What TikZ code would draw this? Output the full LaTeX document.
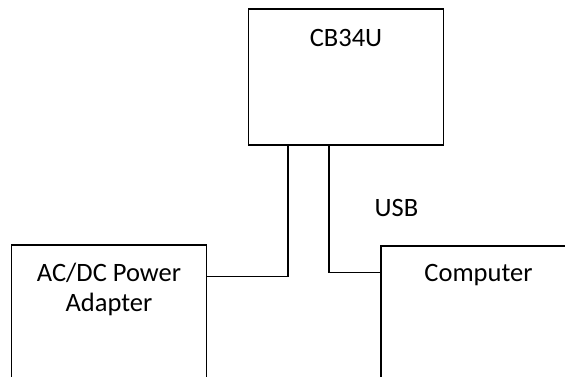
\documentclass[tikz,border=0pt]{standalone}
\usepackage{fontspec}
\setmainfont{Carlito}
\usetikzlibrary{positioning}
\tikzset{
  blk/.style  ={draw, line width=1.2pt, minimum width=195pt,
                minimum height=136pt, inner sep=0pt},
  blktxt/.style ={font=\fontsize{26.5}{30}\selectfont, align=center,
                anchor=base, inner sep=0pt},
  wire/.style ={line width=1.2pt},
}
\begin{document}
\begin{tikzpicture}[x=1pt,y=1pt]
\useasboundingbox (0,0) rectangle (565,377);
\clip (0,0) rectangle (565,377);
% blocks
\node[blk] (cb)  at (346,300)   {};
\node[blk] (adp) at (109,64)    {};
\node[blk] (pc)  at (478.5,63)  {};
% block names (base = last line)
\node[blktxt] (cbname)  at ([yshift=-38]cb.north)  {CB34U};
\node[blktxt] (adpname) at ([yshift=-67]adp.north) {AC/DC Power\\Adapter};
\node[blktxt] (pcname)  at ([yshift=-36]pc.north)  {Computer};
% links
\coordinate (pwrin)  at ([xshift=40]cb.south west);
\coordinate (usbout) at ([xshift=81]cb.south west);
\draw[wire] (pwrin) |- ([yshift=-32]adp.north east);
\draw[wire] (usbout) |- ([yshift=-27]pc.north west);
\node[blktxt] (usblbl) at (396.5,160) {USB};
\end{tikzpicture}
\end{document}
